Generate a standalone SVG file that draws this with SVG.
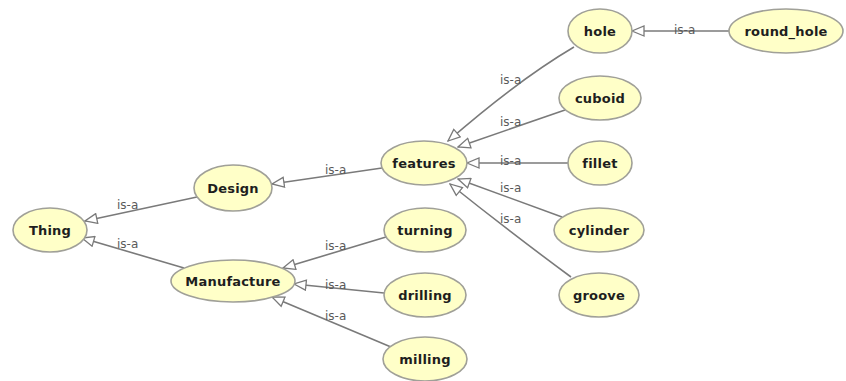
<svg xmlns="http://www.w3.org/2000/svg" width="846" height="381" viewBox="0 0 846 381">
  <style>
    .node ellipse { fill: #ffffc8; stroke: #a0a098; stroke-width: 1.6; }
    .node text { font-family: "DejaVu Sans", "Liberation Sans", sans-serif; font-weight: bold; font-size: 13px; letter-spacing: 0.2px; fill: #1e1e1e; text-anchor: middle; dominant-baseline: central; }
    .edge { fill: none; stroke: #7a7a7a; stroke-width: 1.6; marker-end: url(#isa); }
    .lbl { font-family: "DejaVu Sans", "Liberation Sans", sans-serif; font-size: 12px; fill: #5a5a5a; }
  </style>
  <defs>
    <marker id="isa" viewBox="0 0 14 12" refX="13" refY="6" markerWidth="14" markerHeight="12" markerUnits="userSpaceOnUse" orient="auto">
      <path d="M1,1 L13,6 L1,11 Z" fill="#fff" stroke="#7a7a7a" stroke-width="1.3"/>
    </marker>
  </defs>
  <rect width="846" height="381" fill="#fff"/>

  <g id="connectors">
    <path class="edge" d="M197,197 L85,221"/>
    <path class="edge" d="M184,268 L82,238"/>
    <path class="edge" d="M382,168 L272,184"/>
    <path class="edge" d="M386,237 L283,268"/>
    <path class="edge" d="M384,293 L294,284"/>
    <path class="edge" d="M391,347 L272,297"/>
    <path class="edge" d="M574,47 Q518,80 448,141"/>
    <path class="edge" d="M565,110 L458,147"/>
    <path class="edge" d="M568,163 L467,163"/>
    <path class="edge" d="M562,217 L458,179"/>
    <path class="edge" d="M571,277 Q510,232 450,184"/>
    <path class="edge" d="M729,31 L632,31"/>
    <text class="lbl" x="117" y="209">is-a</text>
    <text class="lbl" x="117" y="248">is-a</text>
    <text class="lbl" x="325" y="174">is-a</text>
    <text class="lbl" x="325" y="250">is-a</text>
    <text class="lbl" x="325" y="289">is-a</text>
    <text class="lbl" x="325" y="320">is-a</text>
    <text class="lbl" x="500" y="84">is-a</text>
    <text class="lbl" x="500" y="126">is-a</text>
    <text class="lbl" x="500" y="165">is-a</text>
    <text class="lbl" x="500" y="192">is-a</text>
    <text class="lbl" x="500" y="223">is-a</text>
    <text class="lbl" x="674" y="34">is-a</text>
  </g>

  <g id="thing" class="node"><ellipse cx="50" cy="230" rx="37" ry="22"/><text x="50" y="230">Thing</text></g>
  <g id="design" class="node"><ellipse cx="233" cy="188" rx="39" ry="23"/><text x="233" y="188">Design</text></g>
  <g id="manufacture" class="node"><ellipse cx="233" cy="281" rx="62" ry="21"/><text x="233" y="281">Manufacture</text></g>
  <g id="features" class="node"><ellipse cx="424" cy="163" rx="43" ry="22"/><text x="424" y="163">features</text></g>
  <g id="turning" class="node"><ellipse cx="425" cy="230" rx="41" ry="22"/><text x="425" y="230">turning</text></g>
  <g id="drilling" class="node"><ellipse cx="425" cy="295" rx="41" ry="22"/><text x="425" y="295">drilling</text></g>
  <g id="milling" class="node"><ellipse cx="425" cy="359" rx="42" ry="22"/><text x="425" y="359">milling</text></g>
  <g id="hole" class="node"><ellipse cx="600" cy="31" rx="32" ry="22"/><text x="600" y="31">hole</text></g>
  <g id="round_hole" class="node"><ellipse cx="786" cy="31" rx="57" ry="22"/><text x="786" y="31">round_hole</text></g>
  <g id="cuboid" class="node"><ellipse cx="600" cy="98" rx="41" ry="22"/><text x="600" y="98">cuboid</text></g>
  <g id="fillet" class="node"><ellipse cx="600" cy="163" rx="32" ry="22"/><text x="600" y="163">fillet</text></g>
  <g id="cylinder" class="node"><ellipse cx="599" cy="230" rx="45" ry="22"/><text x="599" y="230">cylinder</text></g>
  <g id="groove" class="node"><ellipse cx="599" cy="295" rx="40" ry="22"/><text x="599" y="295">groove</text></g>
</svg>
